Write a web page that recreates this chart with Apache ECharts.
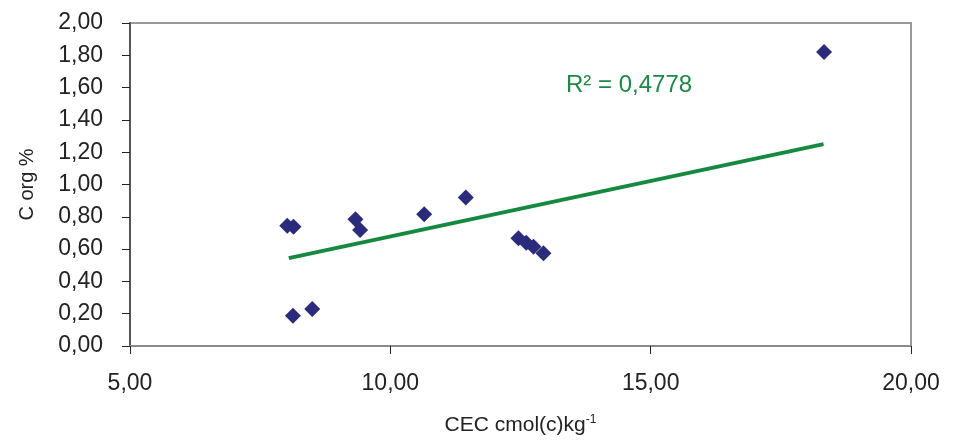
<!DOCTYPE html>
<html>
<head>
<meta charset="utf-8">
<script src="https://cdn.jsdelivr.net/npm/echarts@6/dist/echarts.min.js"></script>
<style>
  html, body { margin: 0; padding: 0; background: #ffffff; }
  #chart { width: 953px; height: 441px; }
</style>
</head>
<body>
<div id="chart"></div>
<script>
// CEC (cmol(c)/kg) against organic carbon (%) for each sample
var cecValues  = [8.02, 8.14, 8.13, 8.50, 9.33, 9.42, 10.65, 11.45, 12.46, 12.61, 12.75, 12.94, 18.33];
var corgValues = [0.744, 0.739, 0.188, 0.229, 0.785, 0.719, 0.816, 0.919, 0.667, 0.640, 0.614, 0.575, 1.82];

// Linear trend line end points and its coefficient of determination
var trendX = [8.05, 18.32];
var trendY = [0.544, 1.25];
var rSquaredText = 'R² = 0,4778';

// Axis ranges and steps
var xMin = 5, xMax = 20, xStep = 5;
var yMin = 0, yMax = 2, yStep = 0.2;

var points = cecValues.map(function (x, i) { return [x, corgValues[i]]; });
var trend = trendX.map(function (x, i) { return [x, trendY[i]]; });

function comma(v) { return v.toFixed(2).replace('.', ','); }

var font = '"Liberation Sans", Arial, sans-serif';
var chart = echarts.init(document.getElementById('chart'), null, { renderer: 'canvas' });

chart.setOption({
  animation: false,
  backgroundColor: '#ffffff',
  grid: {
    left: 130, right: 42, top: 23, bottom: 95,
    show: true, borderColor: '#9a9a9a', borderWidth: 2, backgroundColor: '#ffffff'
  },
  xAxis: {
    type: 'value', min: xMin, max: xMax, interval: xStep,
    name: 'CEC cmol(c)kg{sup|-1}',
    nameLocation: 'middle', nameGap: 68,
    nameTextStyle: {
      fontFamily: font, fontSize: 21, color: '#222',
      rich: { sup: { fontFamily: font, fontSize: 12, color: '#222', verticalAlign: 'top', padding: [0, 0, 11, 0] } }
    },
    axisLine: { lineStyle: { color: '#8a8a8a', width: 2 } },
    axisTick: { show: true, inside: false, length: 8, lineStyle: { color: '#222', width: 1 } },
    axisLabel: { formatter: comma, fontFamily: font, fontSize: 23, color: '#222', margin: 26 },
    splitLine: { show: false }
  },
  yAxis: {
    type: 'value', min: yMin, max: yMax, interval: yStep,
    name: 'C org %',
    nameLocation: 'middle', nameGap: 93,
    nameTextStyle: { fontFamily: font, fontSize: 20, color: '#222' },
    axisLine: { show: true, lineStyle: { color: '#555', width: 2 } },
    axisTick: { show: true, inside: false, length: 8, lineStyle: { color: '#222', width: 1 } },
    axisLabel: { formatter: comma, fontFamily: font, fontSize: 23, color: '#222', margin: 27 },
    splitLine: { show: false }
  },
  graphic: [{
    type: 'text', left: 566, top: 73,
    style: { text: rSquaredText, fontFamily: font, fontSize: 24, fill: '#1a8a45' }
  }],
  series: [
    {
      type: 'line', data: trend, symbol: 'none', z: 2,
      lineStyle: { color: '#15893f', width: 4 }
    },
    {
      type: 'scatter', data: points, symbol: 'diamond', symbolSize: 16, z: 3,
      itemStyle: { color: '#2a2c7b', opacity: 1 }
    }
  ]
});
</script>
</body>
</html>
